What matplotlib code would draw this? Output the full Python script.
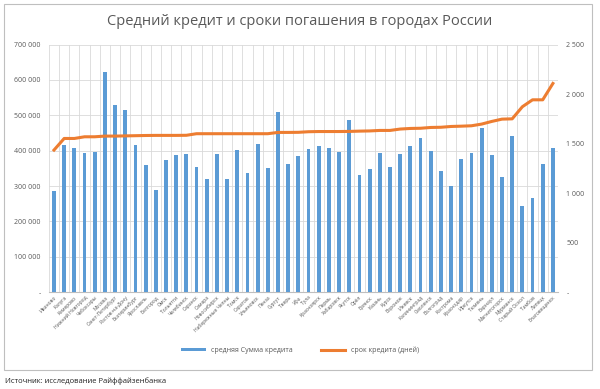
import matplotlib
matplotlib.use('Agg')
import matplotlib.pyplot as plt
from matplotlib.ticker import FuncFormatter, MultipleLocator
from matplotlib.patches import Rectangle
import numpy as np

plt.rcParams['font.family'] = ['Open Sans', 'DejaVu Sans']

# города (подписи оси X)
cities = [
    'Иваново', 'Калуга', 'Кемерово', 'Нижний Новгород', 'Чебоксары',
    'Москва', 'Санкт-Петербург', 'Ростов-на-Дону', 'Екатеринбург', 'Ярославль',
    'Белгород', 'Омск', 'Тольятти', 'Челябинск', 'Саранск',
    'Самара', 'Новосибирск', 'Набережные Челны', 'Томск', 'Саратов',
    'Ульяновск', 'Пенза', 'Сургут', 'Тверь', 'Уфа',
    'Тула', 'Красноярск', 'Пермь', 'Хабаровск', 'Якутск',
    'Орёл', 'Брянск', 'Казань', 'Курск', 'Воронеж',
    'Ижевск', 'Калининград', 'Смоленск', 'Волгоград', 'Кострома',
    'Краснодар', 'Иркутск', 'Тюмень', 'Барнаул', 'Магнитогорск',
    'Мурманск', 'Старый Оскол', 'Тамбов', 'Липецк', 'Благовещенск',
]

# средняя сумма кредита, руб.
avg_credit = [
    287000, 416000, 409000, 394000, 397000,
    622000, 528000, 516000, 417000, 359000,
    290000, 375000, 388000, 391000, 355000,
    321000, 391000, 321000, 402000, 338000,
    420000, 350000, 508000, 362000, 385000,
    405000, 414000, 408000, 397000, 486000,
    330000, 348000, 393000, 353000, 390000,
    412000, 437000, 400000, 342000, 300000,
    377000, 393000, 464000, 389000, 327000,
    442000, 243000, 266000, 362000, 408000,
]

# срок кредита, дней
term_days = [
    1435, 1552, 1552, 1569, 1569,
    1576, 1576, 1578, 1580, 1582,
    1583, 1583, 1583, 1584, 1600,
    1600, 1600, 1600, 1600, 1600,
    1600, 1600, 1613, 1613, 1614,
    1620, 1622, 1622, 1622, 1623,
    1626, 1628, 1633, 1633, 1647,
    1653, 1655, 1663, 1665, 1673,
    1676, 1680, 1697, 1724, 1747,
    1750, 1872, 1942, 1942, 2107,
]

bar_color = '#5B9BD5'
line_color = '#ED7D31'
grid_color = '#D9D9D9'
text_color = '#595959'

x = np.arange(len(cities))

fig = plt.figure(figsize=(6, 3.89), dpi=100)
fig.patch.set_facecolor('white')

# рамка диаграммы
fig.add_artist(Rectangle((0.006, 0.05), 0.98, 0.94, transform=fig.transFigure,
                         fill=False, edgecolor='#BFBFBF', linewidth=0.8))

ax = fig.add_axes([0.0815, 0.2486, 0.8485, 0.637])
ax.bar(x, avg_credit, width=0.38, color=bar_color, zorder=3,
       label='средняя Сумма кредита')
ax.set_xlim(-0.5, len(cities) - 0.5)
ax.set_ylim(0, 700000)
ax.yaxis.set_major_locator(MultipleLocator(100000))
ax.yaxis.set_major_formatter(FuncFormatter(
    lambda v, p: '-' if v == 0 else f'{int(v):,}'.replace(',', ' ')))

ax.set_xticks(x)
ax.set_xticklabels(cities, rotation=45, ha='right', rotation_mode='anchor',
                   fontsize=3.6, color=text_color)
ax.set_xticks(np.arange(-0.5, len(cities), 1), minor=True)
ax.grid(axis='y', which='major', color=grid_color, linewidth=0.6, zorder=0)
ax.grid(axis='x', which='minor', color=grid_color, linewidth=0.6, zorder=0)
ax.tick_params(axis='x', which='both', length=0, pad=2)
ax.tick_params(axis='y', length=0, labelsize=5, labelcolor=text_color, pad=6)
for s in ['top', 'right', 'left']:
    ax.spines[s].set_visible(False)
ax.spines['bottom'].set_color('#BFBFBF')

ax2 = ax.twinx()
ax2.plot(x, term_days, color=line_color, linewidth=2.2, zorder=4,
         label='срок кредита (дней)')
ax2.set_ylim(0, 2500)
ax2.yaxis.set_major_locator(MultipleLocator(500))
ax2.yaxis.set_major_formatter(FuncFormatter(
    lambda v, p: '-' if v == 0 else f'{int(v):,}'.replace(',', ' ')))
ax2.tick_params(axis='y', length=0, labelsize=5, labelcolor=text_color, pad=6)
for s in ['top', 'right', 'left', 'bottom']:
    ax2.spines[s].set_visible(False)

fig.text(0.5, 0.945, 'Средний кредит и сроки погашения в городах России',
         ha='center', va='center', fontsize=10.5, color=text_color)

h1, l1 = ax.get_legend_handles_labels()
h2, l2 = ax2.get_legend_handles_labels()
fig.legend(h1 + h2, l1 + l2, loc='center', bbox_to_anchor=(0.5, 0.1),
           ncol=2, frameon=False, fontsize=5, labelcolor=text_color,
           handlelength=3.5, handleheight=0.4, columnspacing=4)

fig.text(0.008, 0.02, 'Источник: исследование Райффайзенбанка',
         ha='left', va='center', fontsize=5.5, color='#222222')

plt.savefig('out.png', dpi=100)
